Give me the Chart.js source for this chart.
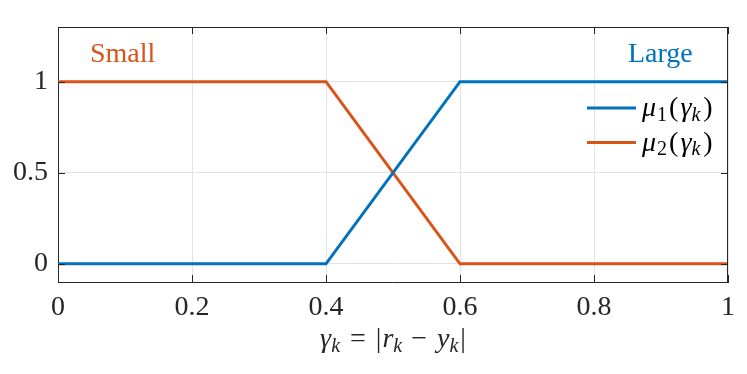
<!DOCTYPE html>
<html>
<head>
<meta charset="utf-8">
<script src="https://cdn.jsdelivr.net/npm/chart.js@4"></script>
<style>
  html, body { margin: 0; padding: 0; background: #fff; }
  #wrap { width: 747px; height: 374px; }
</style>
</head>
<body>
<div id="wrap"><canvas id="chart" width="747" height="374"></canvas></div>
<script>
// ── Datos ────────────────────────────────────────────────────────────────
const GAMMA = [0, 0.4, 0.6, 1];
const MU1 = [0, 0, 1, 1];   // Large
const MU2 = [1, 1, 0, 0];   // Small
const X_TICKS = [0, 0.2, 0.4, 0.6, 0.8, 1];
const Y_TICKS = [0, 0.5, 1];

const AZUL = "#0072BD";
const NARANJA = "#D95319";
const EJE = "#262626";
const SERIF = "'Liberation Serif', 'DejaVu Serif', serif";
const FS = 28;

const pts = (ys) => GAMMA.map((x, i) => ({ x, y: ys[i] }));

// Dibuja trozos [texto, italic, subindice, espacio previo] desde x,y (baseline).
function drawRich(ctx, parts, x, y, size, color, align) {
  const fontFor = (p) => `${p[1] ? "italic " : ""}${p[2] ? Math.round(size * 0.7) : size}px ${SERIF}`;
  let total = 0;
  parts.forEach((p) => { ctx.font = fontFor(p); total += (p[3] || 0) + ctx.measureText(p[0]).width; });
  let cx = align === "center" ? x - total / 2 : x;
  ctx.fillStyle = color;
  ctx.textBaseline = "alphabetic";
  ctx.textAlign = "left";
  parts.forEach((p) => {
    ctx.font = fontFor(p);
    cx += p[3] || 0;
    ctx.fillText(p[0], cx, p[2] ? y + size * 0.17 : y);
    cx += ctx.measureText(p[0]).width;
  });
}

// Marco, ticks hacia adentro, textos y leyenda (estilo MATLAB).
const decor = {
  id: "decor",
  afterDraw(chart) {
    const { ctx, chartArea: a, scales } = chart;
    ctx.save();
    ctx.strokeStyle = EJE;
    ctx.lineWidth = 1;
    ctx.beginPath();
    ctx.moveTo(a.left, a.top + 0.5); ctx.lineTo(a.right, a.top + 0.5);
    ctx.moveTo(a.right - 0.5, a.top); ctx.lineTo(a.right - 0.5, a.bottom);
    const L = 7;
    X_TICKS.forEach((v) => {
      const px = Math.round(scales.x.getPixelForValue(v)) + 0.5;
      ctx.moveTo(px, a.bottom); ctx.lineTo(px, a.bottom - L);
      ctx.moveTo(px, a.top); ctx.lineTo(px, a.top + L);
    });
    Y_TICKS.forEach((v) => {
      const py = Math.round(scales.y.getPixelForValue(v)) + 0.5;
      ctx.moveTo(a.left, py); ctx.lineTo(a.left + L, py);
      ctx.moveTo(a.right, py); ctx.lineTo(a.right - L, py);
    });
    ctx.stroke();

    // Etiquetas de los conjuntos
    ctx.font = `${FS}px ${SERIF}`;
    ctx.textBaseline = "alphabetic";
    ctx.fillStyle = NARANJA;
    ctx.textAlign = "left";
    ctx.fillText("Small", 90, 62);
    ctx.fillStyle = AZUL;
    ctx.fillText("Large", 628, 62);

    // Leyenda
    const mu = (n) => [["μ", true], [n, false, true, 1], ["(", false, false, 2], ["γ", true, false, 2], ["k", true, true], [")", false, false, 3]];
    const leyenda = [[AZUL, mu("1")], [NARANJA, mu("2")]];
    leyenda.forEach(([col, parts], i) => {
      const y = 108 + i * 34.5;
      ctx.strokeStyle = col;
      ctx.lineWidth = 3;
      ctx.beginPath();
      ctx.moveTo(587, y); ctx.lineTo(636, y);
      ctx.stroke();
      drawRich(ctx, parts, 642, y + 8, FS, "#000");
    });

    // Título eje x
    drawRich(ctx, [
      ["γ", true], ["k", true, true], ["=", false, false, 10], ["|", false, false, 10], ["r", true, false, 1],
      ["k", true, true], ["−", false, false, 9], ["y", true, false, 10], ["k", true, true], ["|", false, false, 2],
    ], (a.left + a.right) / 2, 347, FS, EJE, "center");
    ctx.restore();
  },
};

new Chart(document.getElementById("chart"), {
  type: "line",
  data: {
    datasets: [
      { label: "μ1(γk)", data: pts(MU1), borderColor: AZUL, borderWidth: 3, pointRadius: 0, tension: 0 },
      { label: "μ2(γk)", data: pts(MU2), borderColor: NARANJA, borderWidth: 3, pointRadius: 0, tension: 0 },
    ],
  },
  options: {
    responsive: false,
    animation: false,
    layout: { padding: { left: 0, top: 27, right: 19, bottom: 0 } },
    plugins: { legend: { display: false }, tooltip: { enabled: false } },
    scales: {
      x: {
        type: "linear",
        min: 0,
        max: 1,
        afterBuildTicks: (ax) => { ax.ticks = X_TICKS.map((v) => ({ value: v })); },
        afterFit: (ax) => { ax.height = 92; },
        grid: { color: "#e3e3e3", drawTicks: false },
        border: { color: EJE, width: 1 },
        ticks: {
          color: EJE,
          padding: 9,
          font: { family: SERIF, size: FS },
          callback: (v) => String(v),
        },
      },
      y: {
        min: -0.1,
        max: 1.3,
        afterBuildTicks: (ax) => { ax.ticks = Y_TICKS.map((v) => ({ value: v })); },
        afterFit: (ax) => { ax.width = 58; },
        grid: { color: "#e3e3e3", drawTicks: false },
        border: { color: EJE, width: 1 },
        ticks: {
          color: EJE,
          padding: 10,
          font: { family: SERIF, size: FS },
          callback: (v) => String(v),
        },
      },
    },
  },
  plugins: [decor],
});
</script>
</body>
</html>
